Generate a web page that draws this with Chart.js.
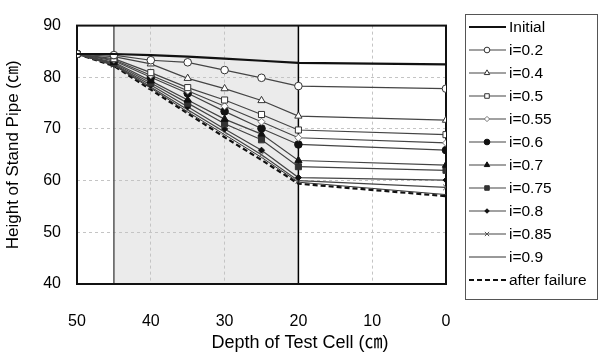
<!DOCTYPE html>
<html>
<head>
<meta charset="utf-8">
<script src="https://cdn.jsdelivr.net/npm/chart.js@4.4.1/dist/chart.umd.min.js"></script>
<style>
  html, body { margin: 0; padding: 0; background: #fff; }
  #wrap { width: 599px; height: 361px; }
</style>
</head>
<body>
<div id="wrap"><canvas id="chart" width="599" height="361"></canvas></div>
<script>
const depths = [50, 45, 40, 35, 30, 25, 20, 0]
const xTicks = [50, 40, 30, 20, 10, 0]
const yTicks = [40, 50, 60, 70, 80, 90]

const seriesNames = ["Initial", "i=0.2", "i=0.4", "i=0.5", "i=0.55", "i=0.6", "i=0.7", "i=0.75", "i=0.8", "i=0.85", "i=0.9", "after failure"]

const initial = [84.5, 84.5, 84.3, 84.0, 83.6, 83.2, 82.8, 82.5]
const i020 = [84.5, 84.3, 83.3, 82.9, 81.4, 79.9, 78.3, 77.8]
const i040 = [84.5, 84.0, 82.6, 79.8, 77.8, 75.5, 72.5, 71.7]
const i050 = [84.5, 83.6, 80.9, 78.0, 75.6, 72.8, 69.8, 68.9]
const i055 = [84.5, 83.4, 80.4, 77.4, 74.4, 71.4, 68.3, 67.3]
const i060 = [84.5, 83.2, 80.0, 76.9, 73.4, 70.1, 67.0, 65.9]
const i070 = [84.5, 82.9, 79.3, 75.6, 71.9, 69.0, 63.9, 63.0]
const i075 = [84.5, 82.7, 78.9, 75.0, 71.0, 67.9, 62.7, 62.0]
const i080 = [84.5, 82.5, 78.5, 74.3, 70.0, 65.9, 60.6, 60.1]
const i085 = [84.5, 82.4, 78.1, 73.7, 69.4, 65.0, 60.0, 58.7]
const i090 = [84.5, 82.3, 77.9, 73.3, 68.9, 64.5, 59.7, 57.3]
const afterFailure = [84.5, 82.2, 77.6, 73.0, 68.4, 64.0, 59.4, 57.0]

// band of the test cell (depth range shaded grey)
const bandFrom = 45
const bandTo = 20

const xTitle = "Depth of Test Cell (㎝)"
const yTitle = "Height of Stand Pipe (㎝)"

const font = "'Liberation Sans', 'Noto Sans CJK JP', Arial, sans-serif"

function pts(values) {
  return depths.map((d, i) => ({ x: d, y: values[i] }))
}

function series(label, values, style) {
  return Object.assign({
    label: label,
    data: pts(values),
    borderColor: "#444",
    borderWidth: 1.2,
    pointRadius: 0,
    pointStyle: "circle",
    pointBackgroundColor: "#fff",
    pointBorderColor: "#333",
    pointBorderWidth: 1,
    tension: 0,
    fill: false,
  }, style)
}

const datasets = [
  series(seriesNames[0], initial, { borderColor: "#111", borderWidth: 2.2 }),
  series(seriesNames[1], i020, { pointRadius: 3.8, pointStyle: "circle" }),
  series(seriesNames[2], i040, { pointRadius: 4.2, pointStyle: "triangle" }),
  series(seriesNames[3], i050, { pointRadius: 4.3, pointStyle: "rect" }),
  series(seriesNames[4], i055, { pointRadius: 3.5, pointStyle: "rectRot", pointBorderColor: "#777" }),
  series(seriesNames[5], i060, { pointRadius: 3.8, pointStyle: "circle", pointBackgroundColor: "#111", pointBorderColor: "#111" }),
  series(seriesNames[6], i070, { pointRadius: 4.2, pointStyle: "triangle", pointBackgroundColor: "#111", pointBorderColor: "#111" }),
  series(seriesNames[7], i075, { pointRadius: 4.3, pointStyle: "rect", pointBackgroundColor: "#333", pointBorderColor: "#333" }),
  series(seriesNames[8], i080, { pointRadius: 3, pointStyle: "rectRot", pointBackgroundColor: "#111", pointBorderColor: "#111" }),
  series(seriesNames[9], i085, { pointRadius: 4, pointStyle: "crossRot", pointBorderColor: "#555" }),
  series(seriesNames[10], i090, { borderColor: "#333", borderWidth: 1 }),
  series(seriesNames[11], afterFailure, { borderColor: "#111", borderWidth: 2.2, borderDash: [5, 3] }),
]

const areaPlugin = {
  id: "area",
  beforeDraw(chart) {
    const { ctx, chartArea: a, scales: { x } } = chart
    const x1 = x.getPixelForValue(bandFrom)
    const x2 = x.getPixelForValue(bandTo)
    ctx.save()
    ctx.fillStyle = "#ebebeb"
    ctx.fillRect(x1, a.top, x2 - x1, a.bottom - a.top)
    ctx.restore()
  },
  beforeDatasetsDraw(chart) {
    const { ctx, chartArea: a, scales: { x } } = chart
    const x1 = x.getPixelForValue(bandFrom)
    const x2 = x.getPixelForValue(bandTo)
    ctx.save()
    ctx.lineWidth = 1.5
    ctx.strokeStyle = "#555"
    ctx.beginPath()
    ctx.moveTo(x1, a.top)
    ctx.lineTo(x1, a.bottom)
    ctx.stroke()
    ctx.strokeStyle = "#000"
    ctx.beginPath()
    ctx.moveTo(x2, a.top)
    ctx.lineTo(x2, a.bottom)
    ctx.stroke()
    ctx.lineWidth = 2
    ctx.strokeStyle = "#111"
    ctx.strokeRect(a.left, a.top, a.right - a.left, a.bottom - a.top)
    ctx.restore()
  },
  afterDraw(chart) {
    // x title is centred on the whole figure, not on the plot area
    const ctx = chart.ctx
    ctx.save()
    ctx.fillStyle = "#000"
    ctx.font = "18px " + font
    ctx.textAlign = "center"
    ctx.textBaseline = "middle"
    ctx.fillText(xTitle, 300, 343)
    ctx.restore()
  },
}

function drawMarker(ctx, ds, cx, cy) {
  if (!ds.pointRadius) return
  ctx.save()
  ctx.fillStyle = ds.pointBackgroundColor
  ctx.strokeStyle = ds.pointBorderColor
  ctx.lineWidth = ds.pointBorderWidth
  Chart.helpers.drawPoint(ctx, { pointStyle: ds.pointStyle, radius: ds.pointRadius * 0.75, borderWidth: ds.pointBorderWidth }, cx, cy)
  ctx.restore()
}

const legendPlugin = {
  id: "boxLegend",
  afterDraw(chart) {
    const ctx = chart.ctx
    const left = 465, top = 14, width = 132, height = 285
    const rowH = 23
    ctx.save()
    ctx.fillStyle = "#fff"
    ctx.fillRect(left, top, width, height)
    ctx.strokeStyle = "#555"
    ctx.lineWidth = 1
    ctx.strokeRect(left + 0.5, top + 0.5, width, height)
    chart.data.datasets.forEach((ds, i) => {
      const y = top + 13 + i * rowH
      ctx.save()
      ctx.strokeStyle = ds.borderColor
      ctx.lineWidth = ds.borderWidth
      ctx.setLineDash(ds.borderDash || [])
      ctx.beginPath()
      ctx.moveTo(left + 4, y)
      ctx.lineTo(left + 41, y)
      ctx.stroke()
      ctx.restore()
      drawMarker(ctx, ds, left + 22, y)
      ctx.fillStyle = "#000"
      ctx.font = "15.5px " + font
      ctx.textBaseline = "middle"
      ctx.fillText(ds.label, left + 44, y + 1)
    })
    ctx.restore()
  },
}

new Chart(document.getElementById("chart"), {
  type: "line",
  data: { datasets: datasets },
  plugins: [areaPlugin, legendPlugin],
  options: {
    responsive: false,
    animation: false,
    layout: { padding: { top: 14, right: 153, left: 0, bottom: 0 } },
    plugins: { legend: { display: false }, tooltip: { enabled: false } },
    scales: {
      x: {
        type: "linear",
        reverse: true,
        min: 0,
        max: 50,
        afterFit(scale) { scale.height = 77 },
        afterBuildTicks(scale) { scale.ticks = xTicks.map((v) => ({ value: v })) },
        grid: {
          color: (c) => (c.tick && (c.tick.value === 0 || c.tick.value === 50 || c.tick.value === 20) ? "rgba(0,0,0,0)" : "#c4c4c4"),
          drawTicks: false,
          lineWidth: 1,
        },
        border: { display: false, dash: [3, 3] },
        ticks: { padding: 28, color: "#000", font: { family: font, size: 16 } },
        title: { display: false },
      },
      y: {
        min: 40,
        max: 90,
        afterFit(scale) { scale.width = 77 },
        afterBuildTicks(scale) { scale.ticks = yTicks.map((v) => ({ value: v })) },
        grid: {
          color: (c) => (c.tick && (c.tick.value === 40 || c.tick.value === 90) ? "rgba(0,0,0,0)" : "#c4c4c4"),
          drawTicks: false,
          lineWidth: 1,
        },
        border: { display: false, dash: [3, 3] },
        ticks: { padding: 16, color: "#000", font: { family: font, size: 16 } },
        title: {
          display: true,
          text: yTitle,
          color: "#000",
          font: { family: font, size: 17 },
          padding: { top: 3, bottom: 0 },
        },
      },
    },
  },
})
</script>
</body>
</html>
